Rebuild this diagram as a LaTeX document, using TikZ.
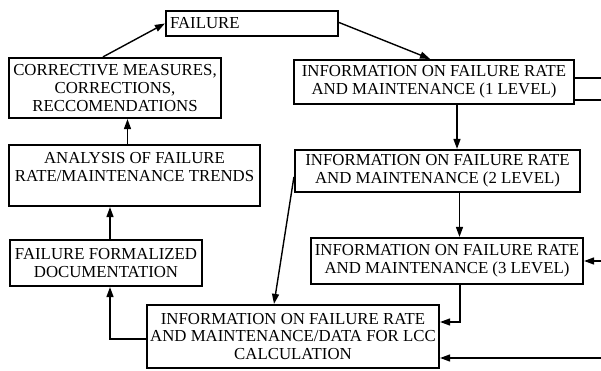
\documentclass[tikz,border=0pt]{standalone}
\usepackage{fontspec}
\setmainfont{Liberation Serif}
\usetikzlibrary{arrows.meta,calc}
\begin{document}
\begin{tikzpicture}[x=1pt,y=-1pt,
  box/.style={draw,line width=2.2pt,inner sep=0pt,align=center,
    font=\fontsize{16.8}{17.8}\selectfont},
  conn/.style={line width=1.4pt,-{Triangle[length=10pt,width=7pt]}},
  plain/.style={line width=1.4pt}]
\useasboundingbox (0,0) rectangle (601,371);
\node[box,minimum width=172pt,minimum height=25pt,text width=164pt,align=left] (fail) at (252,23.5) {FAILURE};
\node[box,minimum width=212pt,minimum height=60pt] (corr) at (115,88) {CORRECTIVE MEASURES,\\CORRECTIONS,\\RECCOMENDATIONS};
\node[box,minimum width=251pt,minimum height=61pt] (anal) at (134.5,175.5) {ANALYSIS OF FAILURE\\RATE/MAINTENANCE TRENDS\\\mbox{}};
\node[box,minimum width=192pt,minimum height=46pt] (ffd) at (106,263) {FAILURE FORMALIZED\\DOCUMENTATION};
\node[box,minimum width=292pt,minimum height=63pt] (lcc) at (293,336.5) {INFORMATION ON FAILURE RATE\\AND MAINTENANCE/DATA FOR LCC\\CALCULATION};
\node[box,minimum width=280pt,minimum height=44pt] (info1) at (434,82) {INFORMATION ON FAILURE RATE\\AND MAINTENANCE (1 LEVEL)};
\node[box,minimum width=285pt,minimum height=42pt] (info2) at (437.5,171) {INFORMATION ON FAILURE RATE\\AND MAINTENANCE (2 LEVEL)};
\node[box,minimum width=272pt,minimum height=46pt] (info3) at (447,261) {INFORMATION ON FAILURE RATE\\AND MAINTENANCE (3 LEVEL)};
\coordinate (r1a) at (601,78);
\coordinate (r1b) at (601,100);
\coordinate (r2) at (601,261);
\coordinate (r3) at (601,358);
\draw[conn] ([xshift=-12pt]corr.north) -- (fail.west);
\draw[conn] ([yshift=1pt]fail.east) -- ([xshift=-4pt]info1.north);
\draw[conn] ([xshift=23pt]info1.south) -- ([xshift=23pt]info1.south |- info2.north);
\draw[conn] ([xshift=22pt]info2.south) -- ([xshift=22pt]info2.south |- info3.north);
\draw[conn] ([xshift=13pt]info3.south) |- ([yshift=14.5pt]lcc.east);
\draw[conn] (r3) -- (r3 -| lcc.east);
\draw[conn] (r2) -- (info3.east);
\draw[plain] (r1a -| info1.east) -- (r1a);
\draw[plain] (r1b -| info1.east) -- (r1b);
\draw[conn] ([yshift=-6pt]info2.west) -- ([xshift=-19pt]lcc.north);
\draw[conn] ([yshift=-2.5pt]lcc.west) -| ([xshift=4pt]ffd.south);
\draw[conn] ([xshift=4pt]ffd.north) -- ([xshift=4pt]ffd.north |- anal.south);
\draw[conn] ([xshift=-7pt]anal.north) -- ([xshift=-7pt]anal.north |- corr.south);
\end{tikzpicture}
\end{document}
